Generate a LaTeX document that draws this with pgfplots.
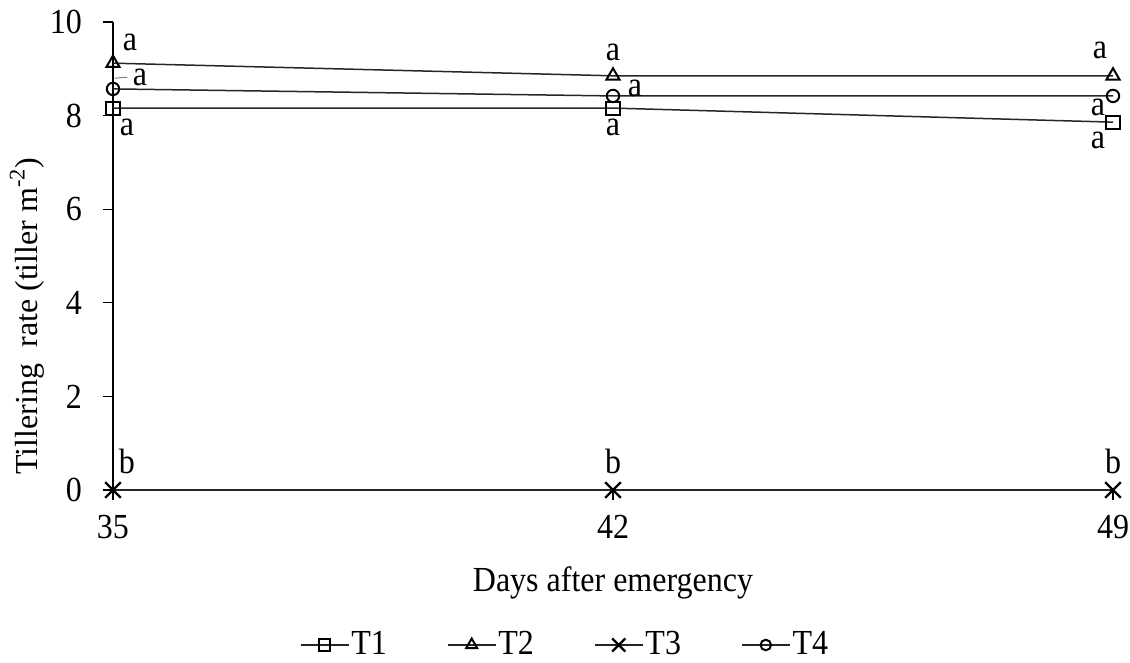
\documentclass[border=0pt]{standalone}
\usepackage{fontspec}
\setmainfont{Liberation Serif}
\usepackage{graphicx}
\usepackage{pgfplots}
\pgfplotsset{compat=1.18}
% the reference text is a little stretched upward
\newcommand{\tall}[1]{\scalebox{1}[1.1]{#1}}

\begin{document}
\fontsize{16}{19}\selectfont
\begin{tikzpicture}
\begin{axis}[
    scale only axis,
    width=500pt, height=234pt,
    at={(0,0)}, anchor=south west,
    xmin=35, xmax=49,
    ymin=0, ymax=10,
    xtick={35,42,49},
    ytick={0,2,4,6,8,10},
    axis x line=bottom,
    axis y line=left,
    axis line style={-, black, line width=0.6pt},
    tick align=outside,
    major tick length=5pt,
    tick style={black, line width=0.6pt},
    /pgf/number format/assume math mode=true,
    tick label style={font=\fontsize{16}{19}\selectfont},
    xticklabel={\tall{\pgfmathprintnumber{\tick}}},
    yticklabel={\tall{\pgfmathprintnumber{\tick}}},
    xticklabel style={yshift=-2pt},
    yticklabel style={xshift=-5pt},
    xlabel={\tall{Days after emergency}},
    ylabel={Tillering\ \ rate (tiller m\textsuperscript{-2})},
    label style={font=\fontsize{16}{19}\selectfont},
    xlabel style={at={(axis description cs:0.5,0)}, anchor=center, yshift=-46.5pt},
    ylabel style={at={(axis description cs:0,0.372)}, anchor=center, yshift=43pt},
    clip=false,
    every axis plot/.append style={line width=0.75pt, black!85},
    legend columns=4,
    legend style={draw=none, font=\fontsize{16}{19}\selectfont,
        at={(axis description cs:0.452,0)}, anchor=center, yshift=-77.5pt,
        inner sep=0pt,
        nodes={inner sep=1pt},
        /tikz/every even column/.append style={column sep=29pt}},
    legend image code/.code={
        \draw[#1, mark repeat=2, mark phase=2, every mark/.append style={scale=0.85}]
            plot coordinates {(0pt,0pt) (12pt,0pt) (24pt,0pt)};
    },
]

% T1
\addplot[mark=square, mark size=3.3pt, mark options={line width=1pt, fill=white, black}]
    coordinates {(35,8.16) (42,8.16) (49,7.86)};
\addlegendentry{\tall{T1}}
% T2
\addplot[mark=triangle, mark size=3.8pt, mark options={line width=1pt, fill=white, black}]
    coordinates {(35,9.12) (42,8.85) (49,8.85)};
\addlegendentry{\tall{T2}}
% T3
\addplot[mark=x, mark size=5.5pt, mark options={line width=1.1pt, black}]
    coordinates {(35,0) (42,0) (49,0)};
\addlegendentry{\tall{T3}}
% T4
\addplot[mark=o, mark size=3.1pt, mark options={line width=1pt, fill=white, black}]
    coordinates {(35,8.57) (42,8.42) (49,8.42)};
\addlegendentry{\tall{T4}}

% letters of the mean comparison
\draw[gray, line width=0.5pt] (axis cs:35.03,8.8) -- (axis cs:35.2,8.82);
\begin{scope}[every node/.style={inner sep=1pt}]
\node at (axis cs:35.238,9.57) {\tall{a}};
\node at (axis cs:35.378,8.82) {\tall{a}};
\node at (axis cs:35.196,7.74) {\tall{a}};
\node at (axis cs:35.196,0.60) {\tall{b}};
\node at (axis cs:42,9.36) {\tall{a}};
\node at (axis cs:42.308,8.59) {\tall{a}};
\node at (axis cs:42,7.74) {\tall{a}};
\node at (axis cs:42,0.60) {\tall{b}};
\node at (axis cs:48.818,9.40) {\tall{a}};
\node at (axis cs:48.79,8.18) {\tall{a}};
\node at (axis cs:48.79,7.46) {\tall{a}};
\node at (axis cs:49,0.60) {\tall{b}};
\end{scope}

\end{axis}
\pgfresetboundingbox
\path[use as bounding box] (-56.5pt,-86.5pt) rectangle (508.5pt,245pt);
\end{tikzpicture}
\end{document}
